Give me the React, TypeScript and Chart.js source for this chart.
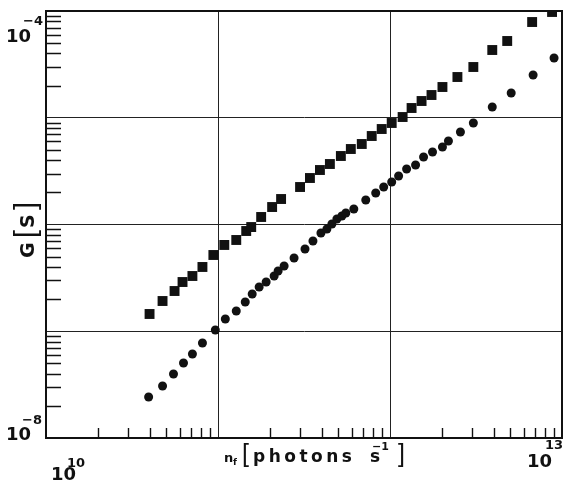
import React, { useEffect, useRef } from "react";
import { Chart, registerables } from "chart.js";

Chart.register(...registerables);

// Photon flux n_f [photons s^-1]
const squareX = [4.0e10, 4.76e10, 5.59e10, 6.22e10, 7.1e10, 8.12e10, 9.4e10, 1.088e11, 1.277e11, 1.459e11, 1.56e11, 1.782e11, 2.064e11, 2.327e11, 3.0e11, 3.424e11, 3.914e11, 4.472e11, 5.18e11, 5.919e11, 6.852e11, 7.83e11, 8.948e11, 1.023e12, 1.184e12, 1.335e12, 1.526e12, 1.743e12, 2.018e12, 2.466e12, 3.052e12, 3.932e12, 4.803e12, 6.705e12, 8.754e12];
// Conductance G [S] for squares
const squareG = [1.451e-7, 1.92e-7, 2.382e-7, 2.892e-7, 3.293e-7, 4.0e-7, 5.18e-7, 6.43e-7, 7.16e-7, 8.69e-7, 9.47e-7, 1.176e-6, 1.458e-6, 1.733e-6, 2.245e-6, 2.726e-6, 3.239e-6, 3.687e-6, 4.382e-6, 5.096e-6, 5.677e-6, 6.745e-6, 7.844e-6, 8.93e-6, 1.016e-5, 1.234e-5, 1.435e-5, 1.633e-5, 1.941e-5, 2.408e-5, 2.988e-5, 4.311e-5, 5.236e-5, 7.885e-5, 9.79e-5];

const circleX = [3.95e10, 4.76e10, 5.51e10, 6.3e10, 7.1e10, 8.12e10, 9.65e10, 1.103e11, 1.277e11, 1.44e11, 1.581e11, 1.735e11, 1.905e11, 2.12e11, 2.236e11, 2.423e11, 2.768e11, 3.205e11, 3.565e11, 3.967e11, 4.297e11, 4.594e11, 4.911e11, 5.25e11, 5.537e11, 6.16e11, 7.23e11, 8.26e11, 9.19e11, 1.023e12, 1.122e12, 1.249e12, 1.408e12, 1.567e12, 1.767e12, 2.018e12, 2.186e12, 2.567e12, 3.052e12, 3.932e12, 5.065e12, 6.792e12, 8.99e12];
const circleG = [2.421e-8, 3.07e-8, 3.977e-8, 5.042e-8, 6.124e-8, 7.763e-8, 1.027e-7, 1.302e-7, 1.548e-7, 1.879e-7, 2.233e-7, 2.597e-7, 2.892e-7, 3.293e-7, 3.667e-7, 4.085e-7, 4.856e-7, 5.894e-7, 7.004e-7, 8.325e-7, 9.075e-7, 1.011e-6, 1.126e-6, 1.201e-6, 1.281e-6, 1.397e-6, 1.696e-6, 1.973e-6, 2.245e-6, 2.501e-6, 2.846e-6, 3.311e-6, 3.609e-6, 4.288e-6, 4.778e-6, 5.321e-6, 6.056e-6, 7.355e-6, 8.93e-6, 1.261e-5, 1.705e-5, 2.515e-5, 3.628e-5];

const X_MIN = 1e10;
const X_MAX = 1e13;
const Y_MIN = 1e-8;
const Y_MAX = 1e-4;
const xDecades = [1e10, 1e11, 1e12, 1e13];
const yDecades = [1e-8, 1e-7, 1e-6, 1e-5, 1e-4];
const minorMantissas = [2, 3, 4, 5, 6, 7, 8, 9];
const xTickBases = ["10", "10"];
const xTickExps = ["10", "13"];
const yTickBases = ["10", "10"];
const yTickExps = ["\u22124", "\u22128"];

const INK = "#111";
const FAM = "'DejaVu Sans', 'Liberation Sans', Arial, sans-serif";
const BIG = `bold 18px ${FAM}`;
const SUP = `bold 13px ${FAM}`;

const decorPlugin = {
  id: "decor",
  afterDraw(chart: any) {
    const { ctx, chartArea: a } = chart;
    const xs = chart.scales.x;
    const ys = chart.scales.y;
    ctx.save();
    ctx.strokeStyle = INK;
    ctx.fillStyle = INK;

    // inward minor ticks on left and bottom axes
    ctx.lineWidth = 1.4;
    ctx.beginPath();
    for (let d = 0; d < yDecades.length - 1; d++) {
      for (const m of minorMantissas) {
        const p = Math.round(ys.getPixelForValue(yDecades[d] * m)) + 0.5;
        ctx.moveTo(a.left, p);
        ctx.lineTo(a.left + 15, p);
      }
    }
    for (let d = 0; d < xDecades.length - 1; d++) {
      for (const m of minorMantissas) {
        const p = Math.round(xs.getPixelForValue(xDecades[d] * m)) + 0.5;
        ctx.moveTo(p, a.bottom);
        ctx.lineTo(p, a.bottom - 10);
      }
    }
    ctx.stroke();

    // frame
    ctx.lineWidth = 2;
    ctx.strokeRect(a.left, a.top, a.right - a.left, a.bottom - a.top);

    ctx.textAlign = "left";
    ctx.textBaseline = "alphabetic";

    // y tick labels (10^-4 top, 10^-8 bottom)
    const yTop = ys.getPixelForValue(Y_MAX);
    const yBot = ys.getPixelForValue(Y_MIN);
    ctx.font = BIG;
    ctx.fillText(yTickBases[0], 6, yTop + 31);
    ctx.fillText(yTickBases[1], 6, yBot + 2);
    ctx.font = SUP;
    ctx.fillText(yTickExps[0], 23, yTop + 14);
    ctx.fillText(yTickExps[1], 22, yBot - 14);

    // x tick labels (10^10 left, 10^13 right)
    const xL = xs.getPixelForValue(X_MIN);
    const xR = xs.getPixelForValue(X_MAX);
    ctx.font = BIG;
    ctx.fillText(xTickBases[0], xL + 5, a.bottom + 42);
    ctx.fillText(xTickBases[1], xR - 35, a.bottom + 29);
    ctx.font = SUP;
    ctx.fillText(xTickExps[0], xL + 21, a.bottom + 29);
    ctx.fillText(xTickExps[1], xR - 17, a.bottom + 11);

    // x axis title: n_f [photons s^-1]
    const bl = a.bottom + 24;
    ctx.font = `bold 13px ${FAM}`;
    ctx.fillText("n", 224, bl);
    ctx.font = `bold 9px ${FAM}`;
    ctx.fillText("f", 233, bl + 3);
    ctx.font = "25px 'Liberation Sans', Arial, sans-serif";
    ctx.fillText("[", 242, bl);
    ctx.font = `bold 17px ${FAM}`;
    (ctx as any).letterSpacing = "3.5px";
    ctx.fillText("photons", 253, bl);
    (ctx as any).letterSpacing = "0px";
    ctx.fillText("s", 370, bl);
    ctx.font = `bold 11px ${FAM}`;
    ctx.fillText("\u22121", 372, bl - 12);
    ctx.font = "25px 'Liberation Sans', Arial, sans-serif";
    ctx.fillText("]", 398, bl);

    // y axis title: G [S]
    ctx.save();
    ctx.translate(34, 258);
    ctx.rotate(-Math.PI / 2);
    ctx.font = `bold 19px ${FAM}`;
    ctx.fillText("G", 0, 0);
    ctx.font = "29px 'Liberation Sans', Arial, sans-serif";
    ctx.fillText("[", 20, 1);
    ctx.font = `bold 19px ${FAM}`;
    ctx.fillText("S", 30, 0);
    ctx.font = "29px 'Liberation Sans', Arial, sans-serif";
    ctx.fillText("]", 48, 1);
    ctx.restore();

    ctx.restore();
  },
};

export default function App() {
  const ref = useRef<HTMLCanvasElement | null>(null);
  useEffect(() => {
    if (!ref.current) return;
    const chart = new Chart(ref.current, {
      type: "scatter",
      data: {
        datasets: [
          {
            label: "squares",
            data: squareX.map((x, i) => ({ x, y: squareG[i] })),
            pointStyle: "rect",
            pointRadius: 7,
            backgroundColor: INK,
            borderColor: INK,
            borderWidth: 0,
          },
          {
            label: "circles",
            data: circleX.map((x, i) => ({ x, y: circleG[i] })),
            pointStyle: "circle",
            pointRadius: 4.5,
            backgroundColor: INK,
            borderColor: INK,
            borderWidth: 0,
          },
        ],
      },
      options: {
        responsive: false,
        animation: false,
        layout: { padding: { left: 46, top: 11, right: 5, bottom: 45 } },
        plugins: { legend: { display: false }, tooltip: { enabled: false } },
        scales: {
          x: {
            type: "logarithmic",
            min: X_MIN,
            max: X_MAX,
            afterBuildTicks: (s: any) => {
              s.ticks = xDecades.map((v) => ({ value: v }));
            },
            ticks: { display: false },
            grid: { color: "#222", lineWidth: 1, drawTicks: false },
            border: { display: true, color: INK, width: 2 },
          },
          y: {
            type: "logarithmic",
            min: Y_MIN,
            max: Y_MAX,
            afterBuildTicks: (s: any) => {
              s.ticks = yDecades.map((v) => ({ value: v }));
            },
            ticks: { display: false },
            grid: { color: "#222", lineWidth: 1, drawTicks: false },
            border: { display: true, color: INK, width: 2 },
          },
        },
      },
      plugins: [decorPlugin],
    });
    return () => chart.destroy();
  }, []);
  return (
    <div style={{ position: "fixed", left: 0, top: 0, width: 569, height: 483, background: "#fff" }}>
      <canvas ref={ref} width={569} height={483} style={{ display: "block", width: 569, height: 483 }} />
    </div>
  );
}
